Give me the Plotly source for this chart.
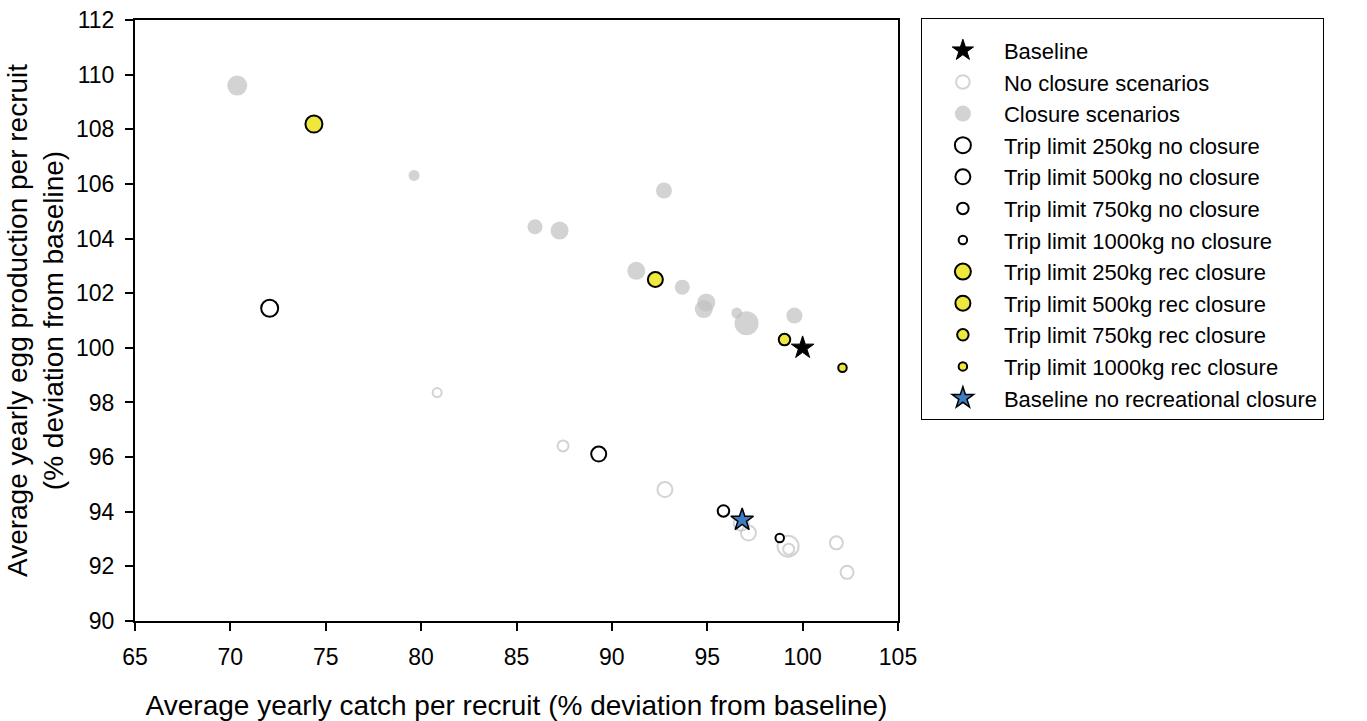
import plotly.graph_objects as go

# ---- data ----
baseline_x = [100.0]
baseline_y = [100.0]

noclos_x = [80.84, 87.44, 92.78, 96.78, 97.16, 99.24, 99.27, 101.77, 102.33]
noclos_y = [98.36, 96.41, 94.81, 93.58, 93.22, 92.74, 92.63, 92.86, 91.78]
noclos_s = [9, 11, 15, 15, 15, 21, 11, 13, 13]

clos_x = [70.36, 79.63, 92.73, 85.97, 87.26, 91.28, 93.69, 94.95, 94.82, 96.55, 97.06, 99.57]
clos_y = [109.60, 106.31, 105.76, 104.43, 104.29, 102.82, 102.22, 101.66, 101.42, 101.27, 100.90, 101.18]
clos_s = [20, 11, 16, 15, 18, 18, 15, 18, 18, 11, 24, 16]

trip_labels = ["250kg", "500kg", "750kg", "1000kg"]
trip_no_x = [72.06, 89.31, 95.85, 98.80]
trip_no_y = [101.45, 96.11, 94.03, 93.04]
trip_rec_x = [74.38, 92.28, 99.05, 102.09]
trip_rec_y = [108.19, 102.50, 100.30, 99.27]
trip_sizes = [17, 15, 11.5, 8.5]

norec_x = [96.83]
norec_y = [93.70]

x_ticks = [65, 70, 75, 80, 85, 90, 95, 100, 105]
y_ticks = [90, 92, 94, 96, 98, 100, 102, 104, 106, 108, 110, 112]

FONT = "Liberation Sans, Arial, sans-serif"
GREY = "#c0c0c0"
YELLOW = "#eee83c"
BLUE = "#3d7dc4"

fig = go.Figure()

fig.add_trace(go.Scatter(x=baseline_x, y=baseline_y, mode="markers", name="Baseline",
                         marker=dict(symbol="star", size=17, color="black",
                                     line=dict(color="black", width=1))))
fig.add_trace(go.Scatter(x=noclos_x, y=noclos_y, mode="markers", name="No closure scenarios",
                         marker=dict(symbol="circle-open", size=noclos_s, color=GREY,
                                     line=dict(color=GREY, width=2))))
fig.add_trace(go.Scatter(x=clos_x, y=clos_y, mode="markers", name="Closure scenarios",
                         marker=dict(symbol="circle", size=clos_s, color=GREY,
                                     line=dict(width=0))))
for i, lab in enumerate(trip_labels):
    fig.add_trace(go.Scatter(x=[trip_no_x[i]], y=[trip_no_y[i]], mode="markers",
                             name=f"Trip limit {lab} no closure",
                             marker=dict(symbol="circle", size=trip_sizes[i], color="white",
                                         line=dict(color="black", width=2))))
for i, lab in enumerate(trip_labels):
    fig.add_trace(go.Scatter(x=[trip_rec_x[i]], y=[trip_rec_y[i]], mode="markers",
                             name=f"Trip limit {lab} rec closure",
                             marker=dict(symbol="circle", size=trip_sizes[i], color=YELLOW,
                                         line=dict(color="black", width=2))))
fig.add_trace(go.Scatter(x=norec_x, y=norec_y, mode="markers",
                         name="Baseline no recreational closure",
                         marker=dict(symbol="star", size=17, color=BLUE,
                                     line=dict(color="black", width=1.5))))

axis_common = dict(showgrid=False, zeroline=False, showline=True, linecolor="black",
                   linewidth=2, mirror=True, ticks="outside", ticklen=8, tickwidth=2,
                   tickcolor="black", automargin=False,
                   tickfont=dict(family=FONT, size=23, color="black"))

fig.update_layout(
    width=1367, height=721,
    margin=dict(l=135, r=469, t=20, b=100),
    paper_bgcolor="white", plot_bgcolor="white",
    font=dict(family=FONT, color="black"),
    showlegend=True,
    legend=dict(x=1.03, y=1.003, xanchor="left", yanchor="top",
                bordercolor="black", borderwidth=1, bgcolor="white",
                font=dict(family=FONT, size=22, color="black"),
                itemwidth=72, maxheight=1000,
                title=dict(text=" ", font=dict(size=8))),
    xaxis=dict(range=[65, 105], tickvals=x_ticks, ticktext=[str(v) for v in x_ticks],
               title=dict(text="Average yearly catch per recruit (% deviation from baseline)",
                          font=dict(family=FONT, size=28, color="black"), standoff=27),
               ticklabelstandoff=6, **axis_common),
    yaxis=dict(range=[90, 112], tickvals=y_ticks, ticktext=[str(v) for v in y_ticks],
               title=dict(text="Average yearly egg production per recruit<br>(% deviation from baseline)",
                          font=dict(family=FONT, size=28, color="black"), standoff=4),
               ticklabelstandoff=6, **axis_common),
)

fig.write_html("out.html")
